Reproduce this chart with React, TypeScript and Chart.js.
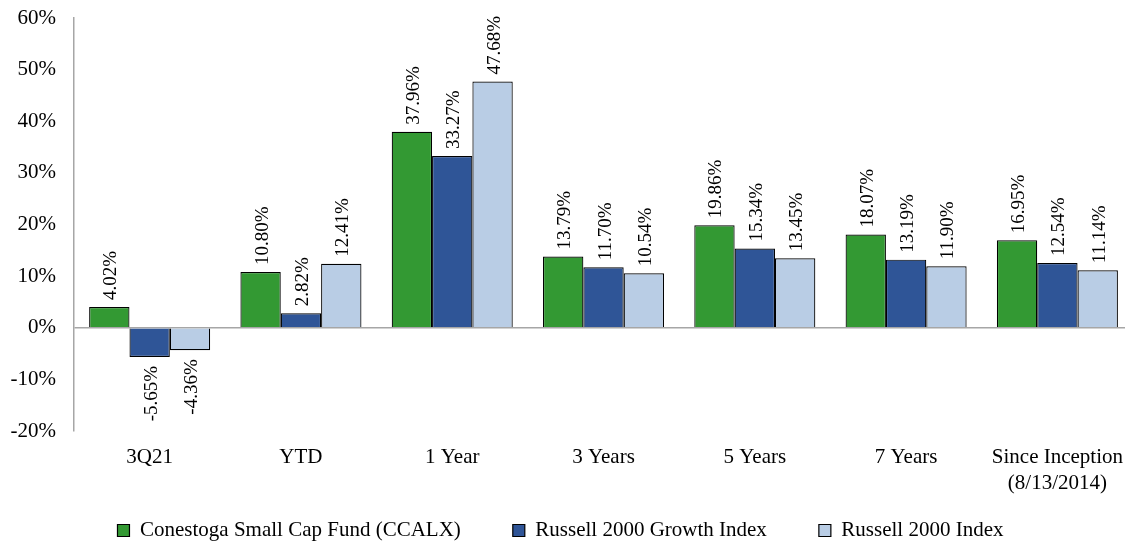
import React, { useEffect, useRef } from "react";
import { Chart, registerables } from "chart.js";

Chart.register(...registerables);

const categories: (string | string[])[] = ["3Q21", "YTD", "1 Year", "3 Years", "5 Years", "7 Years", ["Since Inception", "(8/13/2014)"]];
const fundValues = [4.02, 10.8, 37.96, 13.79, 19.86, 18.07, 16.95];
const growthValues = [-5.65, 2.82, 33.27, 11.7, 15.34, 13.19, 12.54];
const indexValues = [-4.36, 12.41, 47.68, 10.54, 13.45, 11.9, 11.14];
const seriesNames = ["Conestoga Small Cap Fund (CCALX)", "Russell 2000 Growth Index", "Russell 2000 Index"];
const seriesColors = ["#339933", "#2F5597", "#B9CDE5"];

const FONT = "'Liberation Serif', 'Times New Roman', serif";
const CANVAS_W = 1136;
const CANVAS_H = 551;

const labelPlugin = {
  id: "barLabels",
  afterDatasetsDraw(chart: any) {
    const ctx = chart.ctx;
    ctx.save();
    ctx.font = `19px ${FONT}`;
    ctx.fillStyle = "#000";
    ctx.textBaseline = "middle";
    chart.data.datasets.forEach((ds: any, di: number) => {
      const meta = chart.getDatasetMeta(di);
      meta.data.forEach((bar: any, i: number) => {
        const v = ds.data[i];
        const txt = v.toFixed(2) + "%";
        ctx.save();
        if (v >= 0) {
          ctx.translate(bar.x + 2, bar.y - 7);
          ctx.rotate(-Math.PI / 2);
          ctx.textAlign = "left";
        } else {
          ctx.translate(bar.x + 2, bar.y + 9);
          ctx.rotate(-Math.PI / 2);
          ctx.textAlign = "right";
        }
        ctx.fillText(txt, 0, 0);
        ctx.restore();
      });
    });
    ctx.restore();
  },
};

const layoutTweaks = {
  id: "layoutTweaks",
  afterLayout(chart: any) {
    if (chart.legend) {
      chart.legend.right -= 15;
    }
    if (chart.scales.x) {
      chart.scales.x.bottom = chart.height;
    }
  },
};

export default function App() {
  const ref = useRef<HTMLCanvasElement | null>(null);
  useEffect(() => {
    if (!ref.current) return;
    const chart = new Chart(ref.current, {
      type: "bar",
      data: {
        labels: categories as any,
        datasets: [fundValues, growthValues, indexValues].map((d, i) => ({
          label: seriesNames[i],
          data: d,
          backgroundColor: seriesColors[i],
          borderColor: "#000",
          borderWidth: 1.2,
          categoryPercentage: 0.8,
          barPercentage: 1.0,
        })),
      },
      options: {
        responsive: false,
        animation: false,
        layout: { padding: { top: 18, left: 0, right: 0, bottom: 0 } },
        plugins: {
          tooltip: { enabled: false },
          legend: {
            position: "bottom",
            labels: {
              font: { family: FONT, size: 21 },
              color: "#000",
              boxWidth: 12,
              boxHeight: 12,
              padding: 52,
            },
          },
        },
        scales: {
          x: {
            grid: { display: false, drawTicks: false },
            border: { display: false },
            ticks: {
              color: "#000",
              font: { family: FONT, size: 21, lineHeight: 1.24 },
              padding: 13,
              maxRotation: 0,
              autoSkip: false,
            },
            afterFit(scale: any) {
              scale.height = 37;
            },
          },
          y: {
            min: -20,
            max: 60,
            grid: {
              drawTicks: false,
              color: (c: any) => (c.tick && c.tick.value === 0 ? "#a6a6a6" : "rgba(0,0,0,0)"),
              lineWidth: 1.5,
            },
            border: { display: true, color: "#a6a6a6", width: 1.5 },
            ticks: {
              stepSize: 10,
              color: "#000",
              font: { family: FONT, size: 21 },
              padding: 18,
              callback: (v: any) => v + "%",
            },
            afterFit(scale: any) {
              scale.width = 74;
              scale.paddingTop = 0;
              scale.paddingBottom = 0;
            },
          },
        },
      },
      plugins: [labelPlugin, layoutTweaks],
    });
    return () => chart.destroy();
  }, []);
  return (
    <div style={{ position: "fixed", left: 0, top: 0, width: CANVAS_W, height: CANVAS_H, background: "#fff" }}>
      <canvas ref={ref} width={CANVAS_W} height={CANVAS_H} />
    </div>
  );
}
